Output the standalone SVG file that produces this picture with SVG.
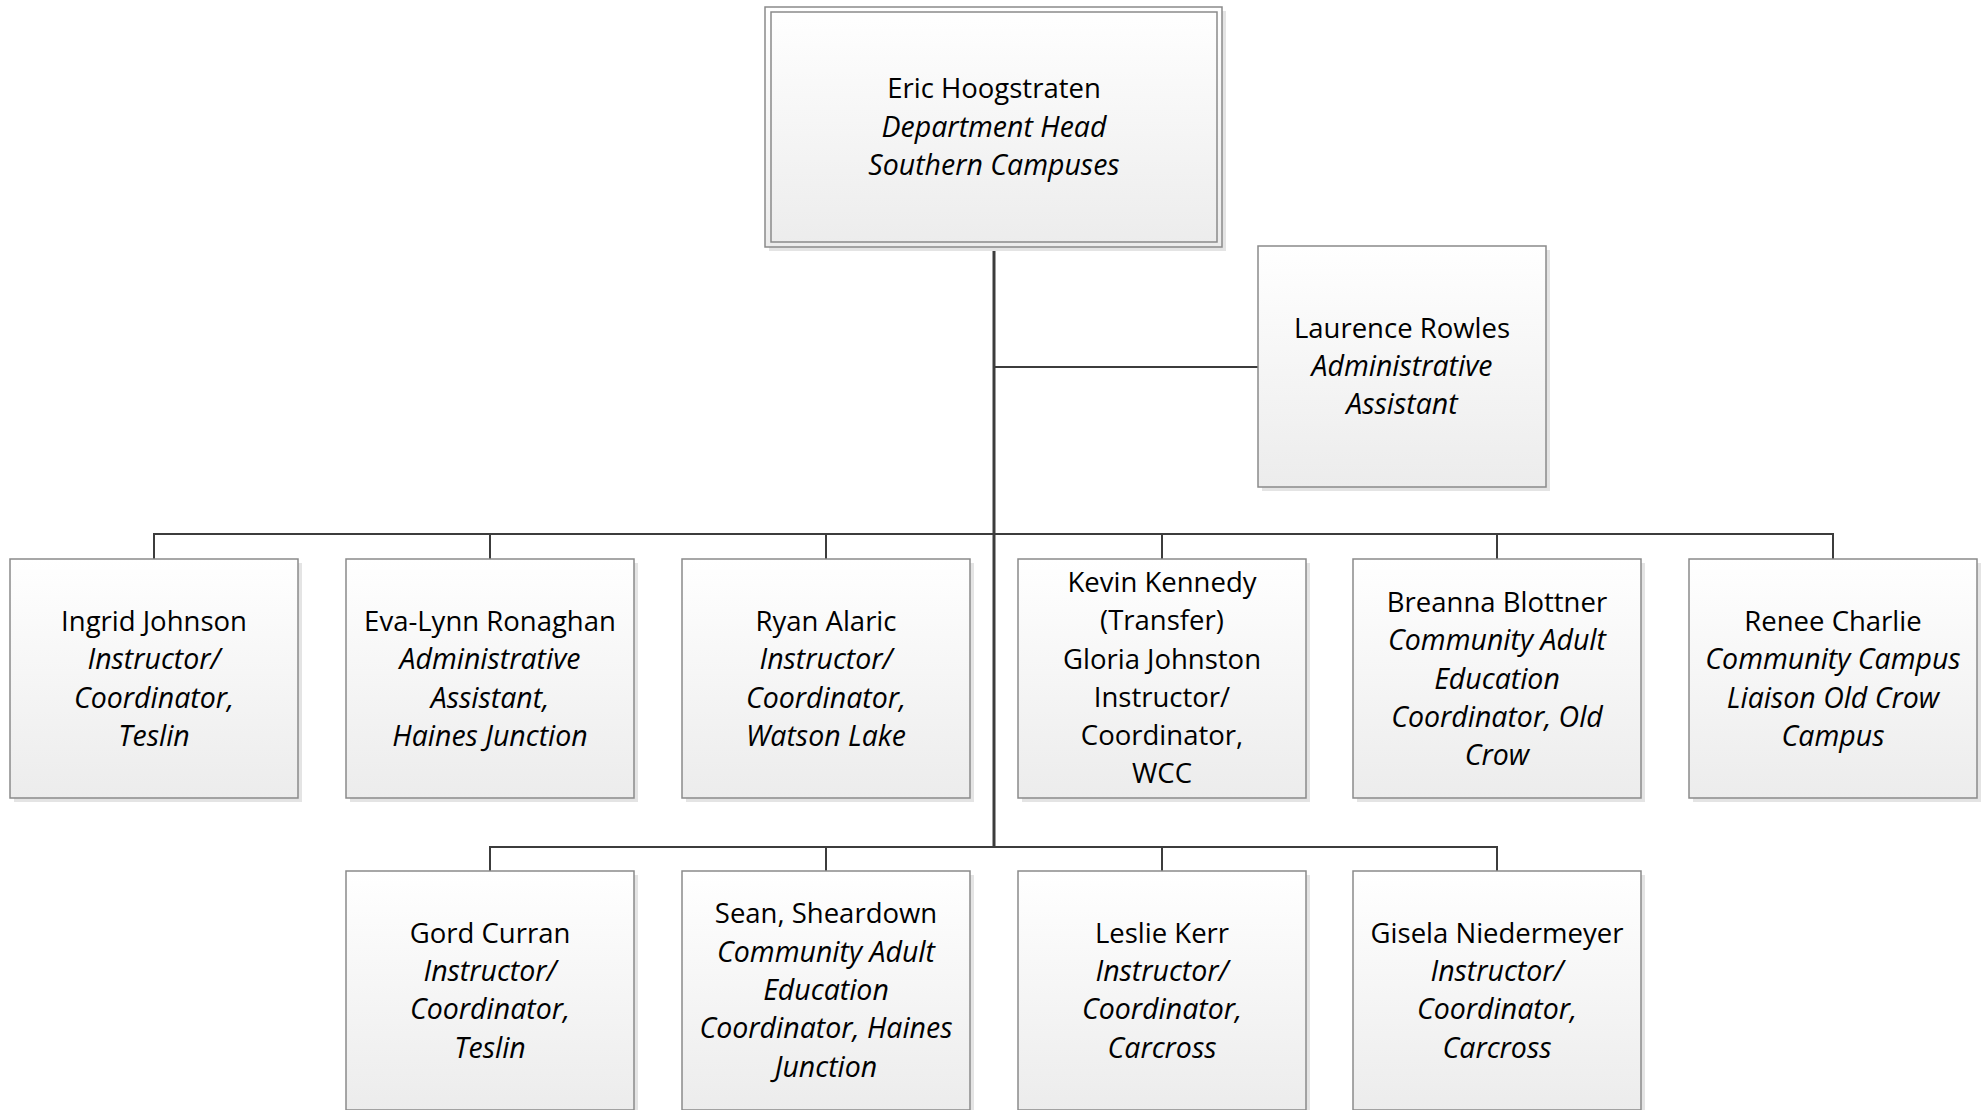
<svg xmlns="http://www.w3.org/2000/svg" width="1987" height="1110" viewBox="0 0 1987 1110">
<style>
.box{fill:url(#g);stroke:#8a8a8a;stroke-width:1.5}
.sh{fill:#e4e4e4}
.t{font-family:"Open Sans","Noto Sans",sans-serif;font-size:27.5px;fill:#000;text-anchor:middle}
.i{font-style:italic;font-size:28.5px}
.c{stroke:#3c3c3c;stroke-width:2;fill:none}
.trunk{stroke:#3c3c3c;stroke-width:3;fill:none}
</style>
<defs>
<linearGradient id="g" x1="0" y1="0" x2="0" y2="1">
<stop offset="0" stop-color="#ffffff"/>
<stop offset="1" stop-color="#ececec"/>
</linearGradient>
</defs>
<rect width="1987" height="1110" fill="#ffffff"/>
<g id="connectors">
<path class="trunk" d="M994,247 V847"/>
<path class="c" d="M994,367 H1258"/>
<path class="c" d="M154,559 V534 H1833 V559"/>
<path class="c" d="M490,534 V559 M826,534 V559 M1162,534 V559 M1497,534 V559"/>
<path class="c" d="M490,871 V847 H1497 V871"/>
<path class="c" d="M826,847 V871 M1162,847 V871"/>
</g>
<g id="n-eric">
<rect class="sh" x="769" y="11" width="457" height="240"/>
<rect class="box" x="765" y="7" width="457" height="240"/>
<rect x="771" y="12" width="446" height="230" fill="none" stroke="#8a8a8a" stroke-width="1.5"/>
<text class="t" x="994" y="98">Eric Hoogstraten</text>
<text class="t i" x="994" y="137">Department Head</text>
<text class="t i" x="994" y="175">Southern Campuses</text>
</g>
<g id="n-laurence">
<rect class="sh" x="1262" y="250" width="288" height="241"/>
<rect class="box" x="1258" y="246" width="288" height="241"/>
<text class="t" x="1402" y="338">Laurence Rowles</text>
<text class="t i" x="1402" y="376">Administrative</text>
<text class="t i" x="1402" y="414">Assistant</text>
</g>
<g id="n-ingrid">
<rect class="sh" x="14" y="563" width="288" height="239"/>
<rect class="box" x="10" y="559" width="288" height="239"/>
<text class="t" x="154" y="631">Ingrid Johnson</text>
<text class="t i" x="154" y="669">Instructor/</text>
<text class="t i" x="154" y="708">Coordinator,</text>
<text class="t i" x="154" y="746">Teslin</text>
</g>
<g id="n-evalynn">
<rect class="sh" x="350" y="563" width="288" height="239"/>
<rect class="box" x="346" y="559" width="288" height="239"/>
<text class="t" x="490" y="631">Eva-Lynn Ronaghan</text>
<text class="t i" x="490" y="669">Administrative</text>
<text class="t i" x="490" y="708">Assistant,</text>
<text class="t i" x="490" y="746">Haines Junction</text>
</g>
<g id="n-ryan">
<rect class="sh" x="686" y="563" width="288" height="239"/>
<rect class="box" x="682" y="559" width="288" height="239"/>
<text class="t" x="826" y="631">Ryan Alaric</text>
<text class="t i" x="826" y="669">Instructor/</text>
<text class="t i" x="826" y="708">Coordinator,</text>
<text class="t i" x="826" y="746">Watson Lake</text>
</g>
<g id="n-kevin">
<rect class="sh" x="1022" y="563" width="288" height="239"/>
<rect class="box" x="1018" y="559" width="288" height="239"/>
<text class="t" x="1162" y="592">Kevin Kennedy</text>
<text class="t" x="1162" y="630">(Transfer)</text>
<text class="t" x="1162" y="669">Gloria Johnston</text>
<text class="t" x="1162" y="707">Instructor/</text>
<text class="t" x="1162" y="745">Coordinator,</text>
<text class="t" x="1162" y="783">WCC</text>
</g>
<g id="n-breanna">
<rect class="sh" x="1357" y="563" width="288" height="239"/>
<rect class="box" x="1353" y="559" width="288" height="239"/>
<text class="t" x="1497" y="612">Breanna Blottner</text>
<text class="t i" x="1497" y="650">Community Adult</text>
<text class="t i" x="1497" y="689">Education</text>
<text class="t i" x="1497" y="727">Coordinator, Old</text>
<text class="t i" x="1497" y="765">Crow</text>
</g>
<g id="n-renee">
<rect class="sh" x="1693" y="563" width="288" height="239"/>
<rect class="box" x="1689" y="559" width="288" height="239"/>
<text class="t" x="1833" y="631">Renee Charlie</text>
<text class="t i" x="1833" y="669">Community Campus</text>
<text class="t i" x="1833" y="708">Liaison Old Crow</text>
<text class="t i" x="1833" y="746">Campus</text>
</g>
<g id="n-gord">
<rect class="sh" x="350" y="875" width="288" height="239"/>
<rect class="box" x="346" y="871" width="288" height="239"/>
<text class="t" x="490" y="943">Gord Curran</text>
<text class="t i" x="490" y="981">Instructor/</text>
<text class="t i" x="490" y="1019">Coordinator,</text>
<text class="t i" x="490" y="1058">Teslin</text>
</g>
<g id="n-sean">
<rect class="sh" x="686" y="875" width="288" height="239"/>
<rect class="box" x="682" y="871" width="288" height="239"/>
<text class="t" x="826" y="923">Sean, Sheardown</text>
<text class="t i" x="826" y="962">Community Adult</text>
<text class="t i" x="826" y="1000">Education</text>
<text class="t i" x="826" y="1038">Coordinator, Haines</text>
<text class="t i" x="826" y="1077">Junction</text>
</g>
<g id="n-leslie">
<rect class="sh" x="1022" y="875" width="288" height="239"/>
<rect class="box" x="1018" y="871" width="288" height="239"/>
<text class="t" x="1162" y="943">Leslie Kerr</text>
<text class="t i" x="1162" y="981">Instructor/</text>
<text class="t i" x="1162" y="1019">Coordinator,</text>
<text class="t i" x="1162" y="1058">Carcross</text>
</g>
<g id="n-gisela">
<rect class="sh" x="1357" y="875" width="288" height="239"/>
<rect class="box" x="1353" y="871" width="288" height="239"/>
<text class="t" x="1497" y="943">Gisela Niedermeyer</text>
<text class="t i" x="1497" y="981">Instructor/</text>
<text class="t i" x="1497" y="1019">Coordinator,</text>
<text class="t i" x="1497" y="1058">Carcross</text>
</g>
</svg>
